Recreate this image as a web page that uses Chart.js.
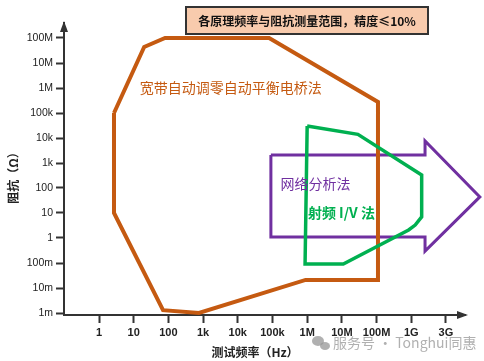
<!DOCTYPE html>
<html>
<head>
<meta charset="utf-8">
<script src="https://cdn.jsdelivr.net/npm/chart.js@4.4.1/dist/chart.umd.min.js"></script>
<style>
  html, body { margin: 0; padding: 0; background: #fff; }
  #wrap { width: 484px; height: 361px; }
</style>
</head>
<body>
<div id="wrap"><canvas id="rangeChart" width="484" height="361"></canvas></div>
<script>
// --- data: frequency (Hz) / impedance (Ohm) ---
const xTickValues = [1, 1e1, 1e2, 1e3, 1e4, 1e5, 1e6, 1e7, 1e8, 1e9, 1e10];
const xTickLabels = ['1', '10', '100', '1k', '10k', '100k', '1M', '10M', '100M', '1G', '3G'];
const yTickValues = [1e-3, 1e-2, 1e-1, 1, 1e1, 1e2, 1e3, 1e4, 1e5, 1e6, 1e7, 1e8];
const yTickLabels = ['1m', '10m', '100m', '1', '10', '100', '1k', '10k', '100k', '1M', '10M', '100M'];

// auto balancing bridge (orange outline)
const bridgeFreq = [2.7, 20, 80, 8e4, 1.1e8, 1.1e8, 9e5, 760, 70, 2.7, 2.7];
const bridgeImp  = [1e5, 4.4e7, 1e8, 1e8, 2.75e5, 0.021, 0.021, 0.001, 0.0013, 10, 1e5];

// network analysis (purple arrow)
const netFreq = [9e4, 2.5e9, 2.5e9, 9.5e10, 2.5e9, 2.5e9, 9e4, 9e4];
const netImp  = [2.1e3, 2.1e3, 7.6e3, 44, 0.3, 1.1, 1.1, 2.1e3];

// RF I/V (green outline)
const rfivFreq = [1e6, 2.9e7, 2e9, 2e9, 1.3e9, 8.4e8, 1.1e7, 8.7e5, 1e6];
const rfivImp  = [3e4, 1.4e4, 330, 7, 3.3, 2.1, 0.091, 0.091, 3e4];

const toPoints = (xs, ys) => xs.map((x, i) => ({ x: x, y: ys[i] }));

const AXIS_COLOR = '#333333';
const FONT = "'Liberation Sans', Arial, sans-serif";

// Plugin untuk panah sumbu, judul, label teks
const decorPlugin = {
    id: 'decor',
    afterDraw(chart) {
        const ctx = chart.ctx;
        const xs = chart.scales.x, ys = chart.scales.y;
        const area = chart.chartArea;
        ctx.save();

        // axis arrows
        ctx.fillStyle = AXIS_COLOR;
        ctx.beginPath();
        ctx.moveTo(area.left, area.top - 2);
        ctx.lineTo(area.left - 4, area.top + 9);
        ctx.lineTo(area.left + 4, area.top + 9);
        ctx.closePath();
        ctx.fill();
        ctx.beginPath();
        ctx.moveTo(area.right + 3, area.bottom);
        ctx.lineTo(area.right - 8, area.bottom - 4);
        ctx.lineTo(area.right - 8, area.bottom + 4);
        ctx.closePath();
        ctx.fill();

        // title box
        ctx.fillStyle = '#F8CBAD';
        ctx.fillRect(186, 7, 242, 27);
        ctx.strokeStyle = '#333333';
        ctx.lineWidth = 2;
        ctx.strokeRect(186, 7, 242, 27);
        ctx.fillStyle = '#111';
        ctx.font = "bold 12px 'Noto Sans CJK SC', sans-serif";
        ctx.textAlign = 'center';
        ctx.textBaseline = 'middle';
        ctx.fillText('各原理频率与阻抗测量范围，精度≤10%', 307, 21);

        // method labels, placed in data space
        ctx.font = "14px 'Noto Sans CJK SC', sans-serif";
        ctx.textAlign = 'left';
        ctx.fillStyle = '#C55A11';
        ctx.fillText('宽带自动调零自动平衡电桥法', xs.getPixelForValue(15), ys.getPixelForValue(1e6));
        ctx.fillStyle = '#7030A0';
        ctx.fillText('网络分析法', xs.getPixelForValue(1.7e5), ys.getPixelForValue(150));
        ctx.fillStyle = '#00B050';
        ctx.font = "bold 14px 'Noto Sans CJK SC', sans-serif";
        ctx.fillText('射频 I/V 法', xs.getPixelForValue(1.05e6), ys.getPixelForValue(10));

        // axis titles
        ctx.fillStyle = '#222';
        ctx.font = "bold 12px 'Noto Sans CJK SC', sans-serif";
        ctx.textAlign = 'center';
        ctx.fillText('测试频率（Hz）', 255, 352);
        ctx.save();
        ctx.translate(13, 175);
        ctx.rotate(-Math.PI / 2);
        ctx.fillText('阻抗（Ω）', 0, 0);
        ctx.restore();

        // watermark
        ctx.fillStyle = 'rgba(150,150,150,0.75)';
        ctx.beginPath();
        ctx.ellipse(318, 341, 6, 5, 0, 0, Math.PI * 2);
        ctx.fill();
        ctx.beginPath();
        ctx.ellipse(325, 346, 5, 4, 0, 0, Math.PI * 2);
        ctx.fill();
        ctx.font = "14px 'Noto Sans CJK SC', sans-serif";
        ctx.textAlign = 'left';
        ctx.fillText('服务号 · Tonghui同惠', 333, 343);

        ctx.restore();
    }
};

function polyDataset(label, pts, color, width, order) {
    return {
        label: label,
        data: pts,
        showLine: true,
        borderColor: color,
        borderWidth: width,
        pointRadius: 0,
        fill: false,
        tension: 0,
        borderJoinStyle: 'miter',
        clip: false,
        order: order
    };
}

new Chart(document.getElementById('rangeChart'), {
    type: 'scatter',
    data: {
        datasets: [
            polyDataset('网络分析法', toPoints(netFreq, netImp), '#7030A0', 3, 2),
            polyDataset('宽带自动调零自动平衡电桥法', toPoints(bridgeFreq, bridgeImp), '#C55A11', 4, 1),
            polyDataset('射频 I/V 法', toPoints(rfivFreq, rfivImp), '#00B050', 3.5, 0)
        ]
    },
    options: {
        responsive: false,
        animation: false,
        layout: { padding: { top: 23, right: 19, left: 0, bottom: 0 } },
        plugins: { legend: { display: false }, tooltip: { enabled: false } },
        scales: {
            x: {
                type: 'logarithmic',
                min: Math.pow(10, -1.01),
                max: Math.pow(10, 10.55),
                afterBuildTicks: s => { s.ticks = xTickValues.map(v => ({ value: v })); },
                afterFit: s => { s.height = 46; },
                grid: { drawOnChartArea: false, drawTicks: true, tickLength: 8, tickWidth: 2, tickColor: AXIS_COLOR },
                border: { color: AXIS_COLOR, width: 2 },
                ticks: {
                    autoSkip: false,
                    maxRotation: 0,
                    padding: 3,
                    color: '#222',
                    font: { family: FONT, size: 11, weight: 'bold' },
                    callback: v => {
                        const i = xTickValues.indexOf(v);
                        return i >= 0 ? xTickLabels[i] : '';
                    }
                }
            },
            y: {
                type: 'logarithmic',
                min: Math.pow(10, -3.08),
                max: Math.pow(10, 8.6),
                afterBuildTicks: s => { s.ticks = yTickValues.map(v => ({ value: v })); },
                afterFit: s => { s.width = 64; },
                grid: { drawOnChartArea: false, drawTicks: true, tickLength: 8, tickWidth: 2, tickColor: AXIS_COLOR },
                border: { color: AXIS_COLOR, width: 2 },
                ticks: {
                    autoSkip: false,
                    padding: 3,
                    color: '#222',
                    font: { family: FONT, size: 10.5 },
                    callback: v => {
                        const i = yTickValues.indexOf(v);
                        return i >= 0 ? yTickLabels[i] : '';
                    }
                }
            }
        }
    },
    plugins: [decorPlugin]
});
</script>
</body>
</html>
